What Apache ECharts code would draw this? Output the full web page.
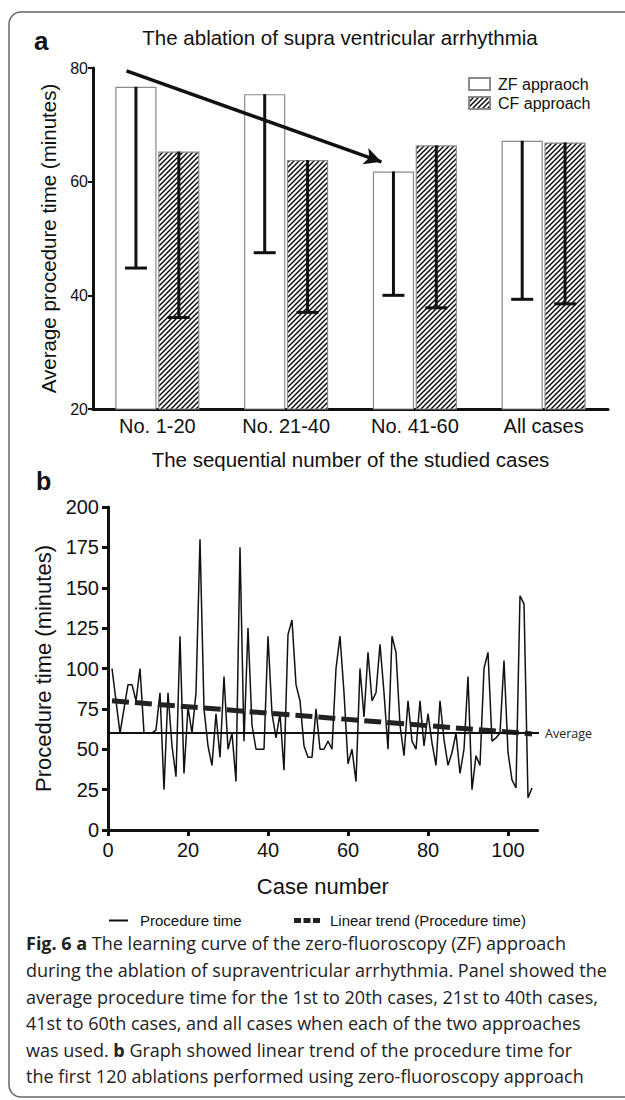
<!DOCTYPE html>
<html>
<head>
<meta charset="utf-8">
<script src="https://cdn.jsdelivr.net/npm/echarts@6/dist/echarts.min.js"></script>
<style>
html,body{margin:0;padding:0;background:#fff;}
#chart{width:625px;height:1100px;}
</style>
</head>
<body>
<div id="chart"></div>
<script>
// ---------- Panel a data ----------
const categories = ['No. 1-20', 'No. 21-40', 'No. 41-60', 'All cases'];
const zfMeans = [76.7, 75.4, 61.8, 67.2];
const zfLower = [44.8, 47.5, 40.0, 39.3];
const cfMeans = [65.3, 63.8, 66.4, 66.9];
const cfLower = [36.1, 37.0, 37.8, 38.5];
const yTicksA = [20, 40, 60, 80];
// arrow annotation in (band position, minutes)
const arrowFrom = [0.26, 79.5];
const arrowTo = [2.24, 63.5];

// ---------- Panel b data ----------
const procTimes = [
  100, 80, 60, 75, 90, 90, 80, 100, 60, 60,
  60, 62, 85, 25, 85, 52, 33, 120, 35, 76,
  60, 85, 180, 75, 52, 40, 72, 45, 95, 50,
  60, 30, 175, 55, 125, 65, 50, 50, 50, 120,
  72, 57, 72, 37, 121, 130, 90, 80, 52, 45,
  45, 75, 50, 50, 55, 50, 100, 120, 85, 41,
  50, 30, 100, 70, 110, 80, 85, 115, 85, 50,
  120, 110, 65, 46, 80, 55, 50, 80, 52, 72,
  54, 40, 80, 56, 40, 48, 60, 35, 50, 95,
  25, 46, 40, 100, 110, 55, 57, 60, 105, 48,
  31, 26, 145, 140, 20, 26
];
const avgValue = 60;
const avgSpan = [0, 110];
const trendStart = [1, 80];
const trendEnd = [106, 59.5];
const xTicksB = [0, 20, 40, 60, 80, 100];
const yTicksB = [0, 25, 50, 75, 100, 125, 150, 175, 200];

// ---------- hatch pattern ----------
function hatch() {
  const s = 5;
  const c = document.createElement('canvas');
  c.width = s; c.height = s;
  const g = c.getContext('2d');
  g.fillStyle = '#fff'; g.fillRect(0, 0, s, s);
  g.strokeStyle = '#000'; g.lineWidth = 1.4;
  g.beginPath();
  g.moveTo(0, s); g.lineTo(s, 0);
  g.moveTo(-1, 1); g.lineTo(1, -1);
  g.moveTo(s - 1, s + 1); g.lineTo(s + 1, s - 1);
  g.stroke();
  return c.toDataURL();
}
const hatchFill = { image: hatch(), repeat: 'repeat' };

const FONT = "'Liberation Sans', Arial, sans-serif";
const BAR_W = 0.32, BAR_GAP = 0.04;

function errRender(sign) {
  return function (params, api) {
    const idx = api.value(0);
    const top = api.coord([idx, api.value(1)]);
    const bot = api.coord([idx, api.value(2)]);
    const band = api.size([1, 0])[0];
    const bw = band * BAR_W;
    const x = top[0] + sign * bw * (1 + BAR_GAP) / 2;
    const st = { stroke: '#111', lineWidth: 3 };
    return {
      type: 'group',
      children: [
        { type: 'line', shape: { x1: x, y1: top[1], x2: x, y2: bot[1] }, style: st },
        { type: 'line', shape: { x1: x - 11, y1: bot[1], x2: x + 11, y2: bot[1] }, style: st }
      ]
    };
  };
}

const chart = echarts.init(document.getElementById('chart'), null, { renderer: 'svg' });

const caption = [
  '{b|Fig. 6 a} The learning curve of the zero-fluoroscopy (ZF) approach',
  'during the ablation of supraventricular arrhythmia. Panel showed the',
  'average procedure time for the 1st to 20th cases, 21st to 40th cases,',
  '41st to 60th cases, and all cases when each of the two approaches',
  'was used. {b|b} Graph showed linear trend of the procedure time for',
  'the first 120 ablations performed using zero-fluoroscopy approach'
].join('\n');

const option = {
  animation: false,
  backgroundColor: '#fff',
  textStyle: { fontFamily: FONT, color: '#111' },
  grid: [
    { left: 93, top: 68, width: 515, height: 341 },
    { left: 108, top: 507, width: 429.6, height: 323 }
  ],
  legend: [
    {
      left: 463, top: 71, orient: 'vertical', itemGap: 3,
      itemWidth: 21, itemHeight: 12, icon: 'rect',
      selectedMode: false,
      data: ['ZF appraoch', 'CF approach'],
      textStyle: { fontSize: 16, color: '#111', fontFamily: FONT, padding: [0, 0, 0, 3] }
    },
    {
      left: 104, top: 908, itemWidth: 19, itemHeight: 2, selectedMode: false,
      data: [{ name: 'Procedure time', icon: 'rect' }],
      textStyle: { fontSize: 15, color: '#111', fontFamily: FONT, padding: [0, 0, 0, 7] }
    },
    {
      left: 289, top: 908, itemWidth: 26, itemHeight: 5, selectedMode: false,
      data: [{ name: 'Linear trend (Procedure time)', icon: 'path://M0,0h7v5h-7z M9.5,0h7v5h-7z M19,0h7v5h-7z' }],
      textStyle: { fontSize: 15, color: '#111', fontFamily: FONT, padding: [0, 0, 0, 5] }
    }
  ],
  xAxis: [
    {
      type: 'category', gridIndex: 0, data: categories, boundaryGap: true,
      axisLine: { lineStyle: { color: '#111', width: 3 } },
      axisTick: { show: false },
      axisLabel: { fontSize: 20, color: '#111', margin: 7 },
      name: 'The sequential number of the studied cases',
      nameLocation: 'middle', nameGap: 40,
      nameTextStyle: { fontSize: 20.5, color: '#111' }
    },
    { type: 'value', gridIndex: 0, min: 0, max: 4, show: false },
    {
      type: 'value', gridIndex: 1, min: 0, max: 107.4,
      axisLine: { lineStyle: { color: '#111', width: 3 } },
      axisTick: { show: true, length: 6, lineStyle: { width: 3, color: '#111' }, customValues: xTicksB },
      axisLabel: { fontSize: 20, color: '#111', margin: 10, customValues: xTicksB },
      splitLine: { show: false },
      name: 'Case number', nameLocation: 'middle', nameGap: 45,
      nameTextStyle: { fontSize: 22, color: '#111' }
    }
  ],
  yAxis: [
    {
      type: 'value', gridIndex: 0, min: 20, max: 80, interval: 20,
      axisLine: { show: true, lineStyle: { color: '#111', width: 3 } },
      axisTick: { show: true, length: 5, lineStyle: { width: 2, color: '#111' } },
      axisLabel: { fontSize: 16, color: '#111', margin: 5 },
      splitLine: { show: false },
      name: 'Average procedure time (minutes)', nameLocation: 'middle', nameGap: 34,
      nameRotate: 90,
      nameTextStyle: { fontSize: 20.5, color: '#111' }
    },
    {
      type: 'value', gridIndex: 1, min: 0, max: 200, interval: 25,
      axisLine: { show: true, lineStyle: { color: '#111', width: 3 } },
      axisTick: { show: true, length: 6, lineStyle: { width: 3, color: '#111' } },
      axisLabel: { fontSize: 20, color: '#111', margin: 9 },
      splitLine: { show: false },
      name: 'Procedure time (minutes)', nameLocation: 'middle', nameGap: 54,
      nameRotate: 90,
      nameTextStyle: { fontSize: 22, color: '#111' }
    }
  ],
  series: [
    {
      name: 'ZF appraoch', type: 'bar', xAxisIndex: 0, yAxisIndex: 0,
      data: zfMeans, barWidth: (BAR_W * 100) + '%', barGap: (BAR_GAP * 100) + '%',
      itemStyle: { color: '#fff', borderColor: '#8a8a8a', borderWidth: 1.2 },
      z: 2
    },
    {
      name: 'CF approach', type: 'bar', xAxisIndex: 0, yAxisIndex: 0,
      data: cfMeans, barWidth: (BAR_W * 100) + '%', barGap: (BAR_GAP * 100) + '%',
      itemStyle: { color: hatchFill, borderColor: '#8a8a8a', borderWidth: 1.2 },
      z: 2
    },
    {
      name: 'ZF error', type: 'custom', xAxisIndex: 0, yAxisIndex: 0,
      data: zfMeans.map((m, i) => [i, m, zfLower[i]]),
      renderItem: errRender(-1), z: 5, silent: true
    },
    {
      name: 'CF error', type: 'custom', xAxisIndex: 0, yAxisIndex: 0,
      data: cfMeans.map((m, i) => [i, m, cfLower[i]]),
      renderItem: errRender(1), z: 5, silent: true
    },
    {
      name: 'arrow', type: 'line', xAxisIndex: 1, yAxisIndex: 0,
      data: [arrowFrom, arrowTo], showSymbol: false, silent: true,
      lineStyle: { width: 0, opacity: 0 },
      markLine: {
        silent: true, symbol: ['none', 'arrow'], symbolSize: [13, 17],
        label: { show: false },
        lineStyle: { color: '#111', width: 3.5, type: 'solid' },
        data: [[{ coord: arrowFrom }, { coord: arrowTo }]]
      },
      z: 6
    },
    {
      name: 'Procedure time', type: 'line', xAxisIndex: 2, yAxisIndex: 1,
      data: procTimes.map((v, i) => [i + 1, v]),
      showSymbol: false, itemStyle: { color: '#111' },
      lineStyle: { color: '#111', width: 1.5 }, z: 3
    },
    {
      name: 'Linear trend (Procedure time)', type: 'line', xAxisIndex: 2, yAxisIndex: 1,
      data: [trendStart, trendEnd], showSymbol: false, itemStyle: { color: '#222' },
      lineStyle: { color: '#222', width: 5, type: [17, 6] }, z: 4
    },
    {
      name: 'Average', type: 'line', xAxisIndex: 2, yAxisIndex: 1,
      data: [[avgSpan[0], avgValue], [avgSpan[1], avgValue]],
      showSymbol: false, clip: false, silent: true,
      lineStyle: { color: '#111', width: 2 },
      endLabel: { show: true, formatter: 'Average', distance: 6, fontSize: 12.5,
        fontFamily: "'Open Sans', sans-serif", color: '#222' },
      z: 5
    }
  ],
  graphic: [
    { type: 'rect', shape: { x: 9, y: 12, width: 640, height: 1085, r: 12 },
      style: { fill: 'none', stroke: '#666', lineWidth: 1.5 }, z: -1 },
    { type: 'text', left: 34, top: 28, style: { text: 'a', fontSize: 26, fontWeight: 'bold', fontFamily: FONT, fill: '#111' } },
    { type: 'text', x: 340, y: 37, style: { text: 'The ablation of supra ventricular arrhythmia', fontSize: 20.5,
      fontFamily: FONT, fill: '#111', align: 'center', verticalAlign: 'middle' } },
    { type: 'text', left: 36, top: 468, style: { text: 'b', fontSize: 25, fontWeight: 'bold', fontFamily: FONT, fill: '#111' } },
    { type: 'text', x: 26, y: 930, style: {
      text: caption, fontSize: 18, lineHeight: 26.6, fontFamily: "'Open Sans', sans-serif", fill: '#222',
      rich: { b: { fontWeight: 'bold', fontSize: 18, lineHeight: 26.6, fontFamily: "'Open Sans', sans-serif", fill: '#222' } }
    } }
  ]
};
chart.setOption(option);
</script>
</body>
</html>
